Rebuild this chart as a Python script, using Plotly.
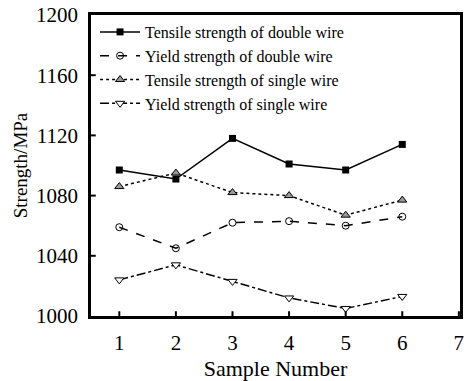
import plotly.graph_objects as go

samples = [1, 2, 3, 4, 5, 6]
tensile_double = [1097, 1091, 1118, 1101, 1097, 1114]
yield_double = [1059, 1045, 1062, 1063, 1060, 1066]
tensile_single = [1086, 1095, 1082, 1080, 1067, 1077]
yield_single = [1024, 1034, 1023, 1012, 1005, 1013]

x_range = [0.5, 7.02]
y_range = [1000, 1200]

names = ["Tensile strength of double wire", "Yield strength of double wire",
         "Tensile strength of single wire", "Yield strength of single wire"]

fig = go.Figure()
fig.add_trace(go.Scatter(x=samples, y=tensile_double, name=names[0], mode="lines+markers",
                         line=dict(color="black", width=1.5, dash="solid"),
                         marker=dict(symbol="square", size=7, color="black")))
fig.add_trace(go.Scatter(x=samples, y=yield_double, name=names[1], mode="lines+markers",
                         line=dict(color="black", width=1.5, dash="dash"),
                         marker=dict(symbol="circle-open", size=7, color="black")))
fig.add_trace(go.Scatter(x=samples, y=tensile_single, name=names[2], mode="lines+markers",
                         line=dict(color="black", width=1.5, dash="dot"),
                         marker=dict(symbol="triangle-up", size=8, color="#999999",
                                     line=dict(color="black", width=1))))
fig.add_trace(go.Scatter(x=samples, y=yield_single, name=names[3], mode="lines+markers",
                         line=dict(color="black", width=1.5, dash="dashdot"),
                         marker=dict(symbol="triangle-down", size=8, color="white",
                                     line=dict(color="black", width=1))))

font = "Liberation Serif, Times New Roman, serif"

fig.update_layout(
    width=469, height=381, margin=dict(l=91, r=9, t=15, b=65, autoexpand=False),
    plot_bgcolor="white", paper_bgcolor="white",
    xaxis=dict(range=x_range, tickmode="linear", tick0=1, dtick=1, automargin=False,
               showline=True, linecolor="#000000", linewidth=2.5, mirror=True,
               ticks="inside", ticklen=5, tickwidth=2, tickcolor="#000000",
               showgrid=False, zeroline=False, ticklabelstandoff=6,
               tickfont=dict(family=font, size=21, color="black"),
               title=dict(text="Sample Number", font=dict(family=font, size=22, color="black"), standoff=12)),
    yaxis=dict(range=y_range, tickmode="linear", tick0=1000, dtick=40, automargin=False,
               showline=True, linecolor="#000000", linewidth=2.5, mirror=True,
               ticks="inside", ticklen=5, tickwidth=2, tickcolor="#000000",
               showgrid=False, zeroline=False, ticklabelstandoff=6,
               tickfont=dict(family=font, size=21, color="black"),
               title=dict(text="Strength/MPa", font=dict(family=font, size=19, color="black"), standoff=4)),
    # overlaid axes carrying the minor ticks
    xaxis2=dict(range=x_range, overlaying="x", side="bottom", anchor="y", tickmode="linear",
                tick0=0.5, dtick=0.5, showticklabels=False, ticks="inside", ticklen=3,
                tickwidth=2, tickcolor="#000000", mirror="ticks", showline=False, automargin=False,
                showgrid=False, zeroline=False),
    yaxis2=dict(range=y_range, overlaying="y", side="left", anchor="x", tickmode="linear",
                tick0=1000, dtick=20, showticklabels=False, ticks="inside", ticklen=3,
                tickwidth=2, tickcolor="#000000", mirror="ticks", showline=False, automargin=False,
                showgrid=False, zeroline=False),
    legend=dict(x=0.011, y=1.0, xanchor="left", yanchor="top",
                bgcolor="rgba(0,0,0,0)", font=dict(family=font, size=16, color="black"),
                itemwidth=40, tracegroupgap=0),
    showlegend=True,
)

post = """
document.body.style.margin='0';
var s = document.createElement('style');
s.textContent = '.main-svg path { shape-rendering: auto !important; }';
document.head.appendChild(s);
"""
fig.write_html("out.html", post_script=post, config={"displayModeBar": False})
